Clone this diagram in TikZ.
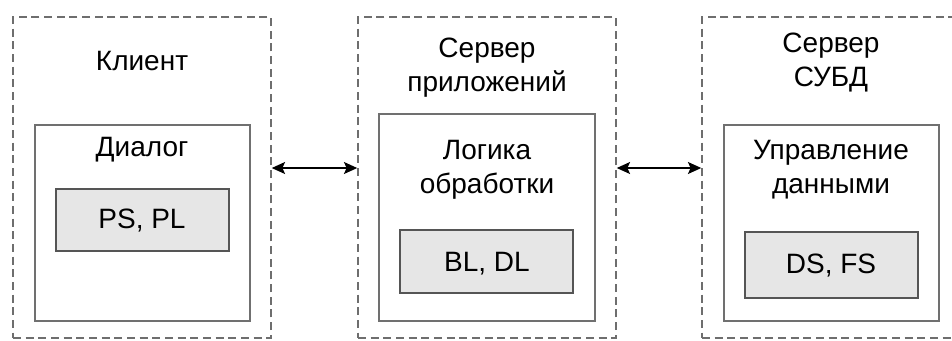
\documentclass[tikz,border=0pt]{standalone}
\usepackage{fontspec}
\setmainfont{Liberation Sans}
\usetikzlibrary{fit,arrows.meta}
\definecolor{dashgray}{HTML}{6E6E6E}
\definecolor{framegray}{HTML}{707070}
\definecolor{boxgray}{HTML}{E6E6E6}
\definecolor{boxline}{HTML}{555555}
\tikzset{
  outerbox/.style={draw=dashgray, line width=1.1pt, dash pattern=on 6pt off 3.5pt, inner sep=0pt},
  innerbox/.style={draw=framegray, line width=1.4pt, inner sep=0pt},
  graybox/.style={draw=boxline, fill=boxgray, line width=1.2pt, inner sep=0pt},
  lbl/.style={anchor=base, inner sep=0pt, font=\fontsize{21}{25.5}\selectfont},
  conn/.style={{Stealth[length=10pt,width=9pt,inset=2pt]}-{Stealth[length=10pt,width=9pt,inset=2pt]}, line width=1.1pt, black}
}
\begin{document}
\begin{tikzpicture}[x=0.75pt,y=-0.75pt]
\useasboundingbox (0,0) rectangle (952,340);
\clip (0,0) rectangle (952,340);
% column 1
\coordinate (o1a) at (13,17);  \coordinate (o1b) at (271,338);
\node[outerbox, fit=(o1a)(o1b)] (o1) {};
\coordinate (i1a) at (35,125); \coordinate (i1b) at (250,321);
\node[innerbox, fit=(i1a)(i1b)] (i1) {};
\coordinate (g1a) at (56,189); \coordinate (g1b) at (229,251);
\node[graybox, fit=(g1a)(g1b)] (g1) {};
\node[lbl] (t1) at (142,70) {Клиент};
\node[lbl] (t1b) at (142,156) {Диалог};
\node[lbl] (t1c) at (142,228) {PS, PL};
% column 2
\coordinate (o2a) at (358,17); \coordinate (o2b) at (616,338);
\node[outerbox, fit=(o2a)(o2b)] (o2) {};
\coordinate (i2a) at (379,114); \coordinate (i2b) at (595,321);
\node[innerbox, fit=(i2a)(i2b)] (i2) {};
\coordinate (g2a) at (400,230); \coordinate (g2b) at (573,293);
\node[graybox, fit=(g2a)(g2b)] (g2) {};
\node[lbl] (t2) at (487,57) {Сервер};
\node[lbl] (t2a) at (487,91) {приложений};
\node[lbl] (t2b) at (487,159) {Логика};
\node[lbl] (t2c) at (487,193) {обработки};
\node[lbl] (t2d) at (487,271) {BL, DL};
% column 3
\coordinate (o3a) at (702,17); \coordinate (o3b) at (960,338);
\node[outerbox, fit=(o3a)(o3b)] (o3) {};
\coordinate (i3a) at (724,125); \coordinate (i3b) at (939,321);
\node[innerbox, fit=(i3a)(i3b)] (i3) {};
\coordinate (g3a) at (745,232); \coordinate (g3b) at (918,298);
\node[graybox, fit=(g3a)(g3b)] (g3) {};
\node[lbl] (t3) at (831,52) {Сервер};
\node[lbl] (t3a) at (831,86) {СУБД};
\node[lbl] (t3b) at (831,159) {Управление};
\node[lbl] (t3c) at (831,193) {данными};
\node[lbl] (t3d) at (831,273) {DS, FS};
% connectors
\coordinate (ay) at (0,168);
\draw[conn] (o1.east |- ay) -- (o2.west |- ay);
\draw[conn] (o2.east |- ay) -- (o3.west |- ay);
\end{tikzpicture}
\end{document}
